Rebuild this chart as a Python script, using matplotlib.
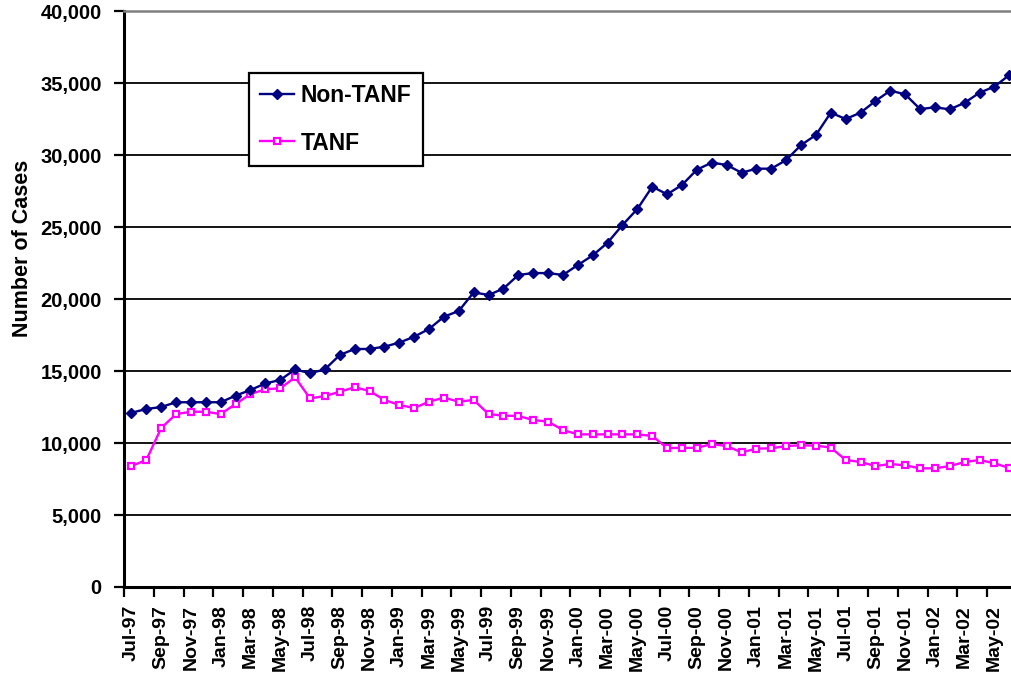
import matplotlib
matplotlib.use("Agg")
import matplotlib.pyplot as plt
from matplotlib.ticker import FuncFormatter, FixedLocator

months = ["Jul-97", "Aug-97", "Sep-97", "Oct-97", "Nov-97", "Dec-97",
          "Jan-98", "Feb-98", "Mar-98", "Apr-98", "May-98", "Jun-98",
          "Jul-98", "Aug-98", "Sep-98", "Oct-98", "Nov-98", "Dec-98",
          "Jan-99", "Feb-99", "Mar-99", "Apr-99", "May-99", "Jun-99",
          "Jul-99", "Aug-99", "Sep-99", "Oct-99", "Nov-99", "Dec-99",
          "Jan-00", "Feb-00", "Mar-00", "Apr-00", "May-00", "Jun-00",
          "Jul-00", "Aug-00", "Sep-00", "Oct-00", "Nov-00", "Dec-00",
          "Jan-01", "Feb-01", "Mar-01", "Apr-01", "May-01", "Jun-01",
          "Jul-01", "Aug-01", "Sep-01", "Oct-01", "Nov-01", "Dec-01",
          "Jan-02", "Feb-02", "Mar-02", "Apr-02", "May-02", "Jun-02"]

non_tanf = [12100, 12360, 12500, 12830, 12830, 12830, 12830, 13290, 13680, 14140,
            14375, 15115, 14840, 15115, 16110, 16530, 16530, 16690, 16970, 17380,
            17920, 18770, 19170, 20460, 20280, 20720, 21670, 21800, 21800, 21670,
            22360, 23030, 23910, 25140, 26250, 27800, 27270, 27920, 28980, 29470,
            29310, 28770, 29050, 29050, 29650, 30690, 31390, 32940, 32500, 32940,
            33750, 34470, 34210, 33190, 33310, 33170, 33630, 34330, 34750, 35560]

tanf = [8400, 8820, 11040, 12010, 12170, 12170, 12010, 12710, 13400, 13730,
        13800, 14560, 13100, 13260, 13560, 13870, 13610, 12990, 12640, 12430,
        12870, 13150, 12870, 12990, 12010, 11900, 11875, 11600, 11480, 10900,
        10600, 10600, 10600, 10600, 10600, 10490, 9650, 9660, 9660, 9930,
        9790, 9350, 9610, 9630, 9790, 9840, 9820, 9680, 8820, 8680,
        8400, 8540, 8450, 8240, 8240, 8400, 8680, 8820, 8590, 8260]

y_ticks = [0, 5000, 10000, 15000, 20000, 25000, 30000, 35000, 40000]

plt.rcParams['font.family'] = ['Liberation Sans', 'DejaVu Sans']
plt.rcParams['font.weight'] = 'bold'

W, H = 1012, 678
fig = plt.figure(figsize=(W / 100, H / 100), dpi=100)
left, right, top, bottom = 124, 1012, 11, 587
ax = fig.add_axes([left / W, 1 - bottom / H, (right - left) / W, (bottom - top) / H])

x = list(range(len(months)))
ax.plot(x, non_tanf, color='#000080', lw=1.7, marker='D', ms=5.2,
        mfc='#000080', mec='#000080', label='Non-TANF', zorder=4)
ax.plot(x, tanf, color='#FF00FF', lw=1.7, marker='s', ms=4.6,
        mfc='white', mec='#FF00FF', mew=1.6, label='TANF', zorder=3)

# category axis: width per category derived from tick spacing in reference
cat_w = 14.88
ax.set_xlim(-0.5, -0.5 + (right - left) / cat_w)
ax.set_ylim(y_ticks[0], y_ticks[-1])

ax.set_yticks(y_ticks)
ax.yaxis.set_major_formatter(FuncFormatter(lambda v, p: f"{int(v):,}"))
ax.tick_params(axis='y', which='major', direction='out', length=7, width=1.6,
               pad=9, labelsize=14.5, colors='black')

label_pos = x[::2]
ax.xaxis.set_major_locator(FixedLocator(label_pos))
ax.set_xticklabels([months[i] for i in label_pos], rotation=90, fontsize=14,
                   fontweight='bold')
ax.xaxis.set_minor_locator(FixedLocator([i - 0.5 for i in label_pos]))
ax.tick_params(axis='x', which='major', length=0, pad=13)
ax.tick_params(axis='x', which='minor', direction='out', length=7, width=1.6)

ax.set_axisbelow(True)
ax.yaxis.grid(True, color='black', lw=1.3)
ax.xaxis.grid(False)

for s in ['left', 'bottom']:
    ax.spines[s].set_color('black')
    ax.spines[s].set_linewidth(2.2)
ax.spines['top'].set_color('#808080')
ax.spines['top'].set_linewidth(1.8)
ax.spines['right'].set_visible(False)

fig.text(23 / W, 1 - 248 / H, 'Number of Cases', rotation=90, ha='center',
         va='center', fontsize=15.5, fontweight='bold')

leg = ax.legend(loc='upper left', bbox_to_anchor=(249 / W, 1 - 73 / H),
                bbox_transform=fig.transFigure, borderaxespad=0,
                prop={'size': 16.5, 'weight': 'bold'}, frameon=True,
                fancybox=False, shadow=False, handlelength=1.45,
                handletextpad=0.3, borderpad=0.5, labelspacing=1.05,
                numpoints=1)
leg.get_frame().set_edgecolor('black')
leg.get_frame().set_linewidth(1.6)
leg.get_frame().set_facecolor('white')
leg.get_frame().set_alpha(1)

fig.savefig('out.png', dpi=100)
